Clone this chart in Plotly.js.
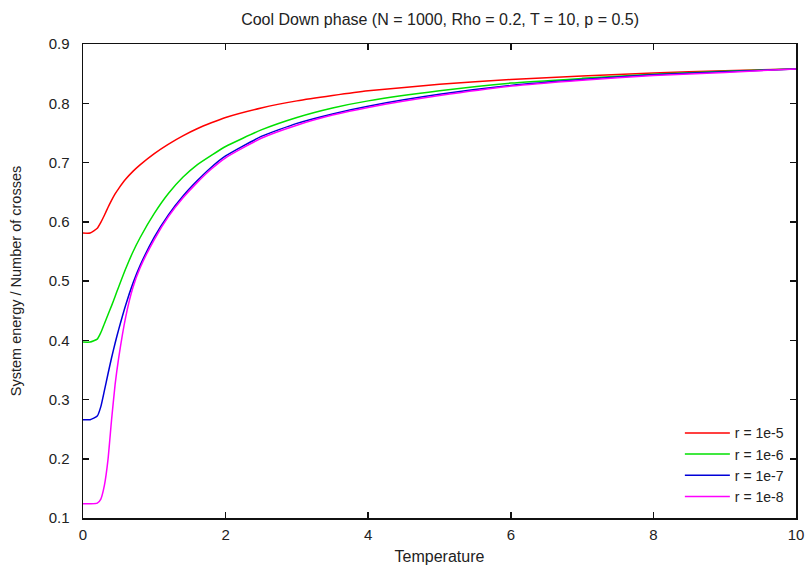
<!DOCTYPE html>
<html>
<head>
<meta charset="utf-8">
<script src="https://cdn.plot.ly/plotly-3.0.1.min.js"></script>
<style>html,body{margin:0;padding:0;background:#fff;}#chart{width:806px;height:565px;}</style>
</head>
<body>
<div id="chart"></div>
<script>
// Temperature samples
var temperature = [0, 0.1, 0.2, 0.25, 0.3, 0.35, 0.4, 0.45, 0.5, 0.6, 0.7, 0.8, 1.0, 1.2, 1.4, 1.6, 1.8, 2.0, 2.5, 3.0, 3.5, 4.0, 5.0, 6.0, 7.0, 8.0, 9.0, 10.0];
// System energy / number of crosses for each r
var r1e5 = [0.581, 0.581, 0.589, 0.599, 0.611, 0.624, 0.636, 0.647, 0.656, 0.672, 0.685, 0.696, 0.715, 0.731, 0.745, 0.757, 0.767, 0.776, 0.792, 0.804, 0.813, 0.821, 0.832, 0.840, 0.846, 0.851, 0.855, 0.858];
var r1e6 = [0.397, 0.397, 0.402, 0.413, 0.428, 0.443, 0.458, 0.474, 0.490, 0.521, 0.549, 0.573, 0.614, 0.648, 0.675, 0.696, 0.712, 0.727, 0.755, 0.776, 0.792, 0.804, 0.821, 0.834, 0.842, 0.849, 0.854, 0.858];
var r1e7 = [0.266, 0.266, 0.272, 0.288, 0.315, 0.343, 0.370, 0.395, 0.418, 0.460, 0.496, 0.526, 0.574, 0.612, 0.643, 0.669, 0.692, 0.711, 0.744, 0.766, 0.782, 0.795, 0.815, 0.830, 0.840, 0.848, 0.853, 0.858];
var r1e8 = [0.124, 0.124, 0.125, 0.132, 0.155, 0.198, 0.265, 0.325, 0.370, 0.440, 0.489, 0.522, 0.570, 0.609, 0.640, 0.666, 0.689, 0.708, 0.741, 0.763, 0.780, 0.793, 0.813, 0.829, 0.839, 0.847, 0.852, 0.858];
var seriesNames = ["r = 1e-5", "r = 1e-6", "r = 1e-7", "r = 1e-8"];
var seriesColors = ["#ff0000", "#00e000", "#0000d8", "#ff00ff"];
var seriesValues = [r1e5, r1e6, r1e7, r1e8];

var traces = seriesValues.map(function (vals, i) {
  return {
    x: temperature, y: vals, type: "scatter", mode: "lines",
    name: seriesNames[i],
    line: {color: seriesColors[i], width: 1.5, shape: "spline", smoothing: 0.5}
  };
});

var fontFam = "Liberation Sans, Arial, sans-serif";
var txt = "#222";
var layout = {
  width: 806, height: 565, autosize: false,
  paper_bgcolor: "#fff", plot_bgcolor: "#fff",
  margin: {l: 83, r: 10, t: 44, b: 47, pad: 0},
  font: {family: fontFam, size: 14, color: txt},
  title: {text: "Cool Down phase (N = 1000, Rho = 0.2, T = 10, p = 0.5)", x: 0.546, xanchor: "center", y: 0.966, yanchor: "middle", font: {family: fontFam, size: 16, color: txt}},
  xaxis: {
    range: [0, 10], tickvals: [0, 2, 4, 6, 8, 10], ticktext: ["0", "2", "4", "6", "8", "10"],
    ticks: "inside", ticklen: 6, tickwidth: 1.5, tickcolor: "#111",
    showline: true, linecolor: "#111", linewidth: 1.5, mirror: "ticks",
    showgrid: false, zeroline: false, ticklabelstandoff: 2,
    tickfont: {family: fontFam, size: 15, color: txt},
    title: {text: "Temperature", standoff: 11, font: {family: fontFam, size: 16, color: txt}}
  },
  yaxis: {
    range: [0.1, 0.9], tickvals: [0.1, 0.2, 0.3, 0.4, 0.5, 0.6, 0.7, 0.8, 0.9],
    ticktext: ["0.1", "0.2", "0.3", "0.4", "0.5", "0.6", "0.7", "0.8", "0.9"],
    ticks: "inside", ticklen: 6, tickwidth: 1.5, tickcolor: "#111",
    showline: true, linecolor: "#111", linewidth: 1.5, mirror: "ticks",
    showgrid: false, zeroline: false, ticklabelstandoff: 9,
    tickfont: {family: fontFam, size: 15, color: txt},
    title: {text: "System energy / Number of crosses", standoff: 23, font: {family: fontFam, size: 14.5, color: txt}}
  },
  showlegend: true,
  legend: {x: 0.99, xanchor: "right", y: 0.012, yanchor: "bottom", bgcolor: "rgba(0,0,0,0)",
    font: {family: fontFam, size: 14, color: txt}, itemwidth: 45, tracegroupgap: 0}
};

Plotly.newPlot("chart", traces, layout, {displayModeBar: false, staticPlot: true});
</script>
</body>
</html>
